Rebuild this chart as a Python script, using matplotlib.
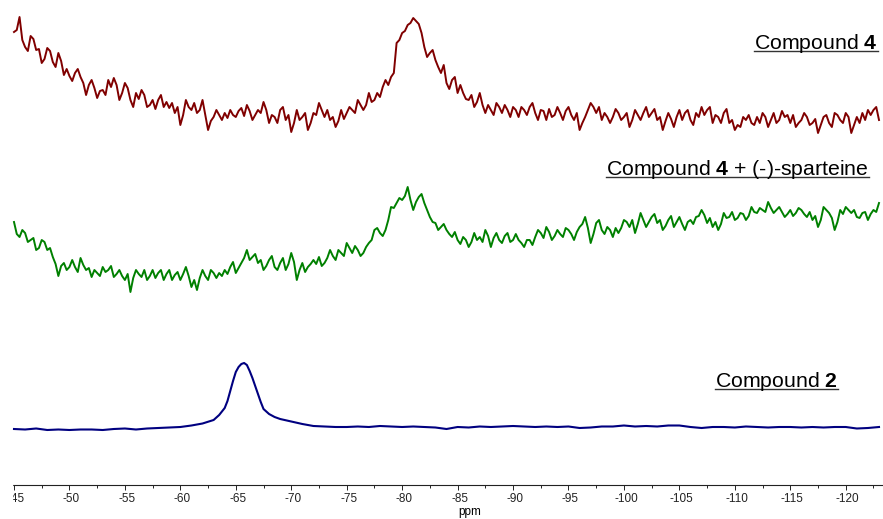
import numpy as np
import matplotlib
matplotlib.use('Agg')
import matplotlib.pyplot as plt
from matplotlib.ticker import MultipleLocator
from matplotlib.patches import Rectangle
from matplotlib.lines import Line2D
from matplotlib.transforms import ScaledTranslation

plt.rcParams['font.family'] = 'Liberation Sans'
plt.rcParams['mathtext.fontset'] = 'custom'
plt.rcParams['mathtext.rm'] = 'Liberation Sans'
plt.rcParams['mathtext.bf'] = 'Liberation Sans:bold'
plt.rcParams['axes.unicode_minus'] = False

# ── Data (arbitrary intensity units) ─────────────────────────────────────────
# readings on a 0.5 ppm grid (-45 ... -123) and the points half-way between them
# Compound 4
cmp4 = [103, 118, 88, 99, 85, 72, 87, 73, 82, 60, 59, 62, 58, 40, 55, 37, 45, 55, 57, 35,
        52, 35, 42, 45, 28, 35, 35, 28, 27, 22, 10, 35, 25, 22, 35, 5, 18, 20,
        22, 25, 18, 27, 30, 15, 25, 33, 12, 18, 25, 15, 3, 25, 18, 5, 22, 32, 18, 15,
        8, 25, 22, 25, 35, 25, 42, 35, 38, 55, 58, 92, 102, 110, 117, 111, 88, 82, 75, 62,
        52, 55, 42, 42, 35, 28, 42, 22, 25, 32, 22, 25, 28, 18, 25, 28, 22, 25, 15, 18,
        28, 15, 28, 15, 5, 18, 32, 22, 15, 18, 18, 22, 18, 8, 25, 15, 28, 22, 15, 5,
        22, 8, 25, 22, 15, 22, 28, 25, 12, 18, 22, 12, 5, 8, 15, 12, 18, 22, 8, 22,
        15, 18, 12, 8, 15, 18, 12, 2, 18, 12, 22, 15, 22, 2, 18, 22, 25, 25, 15]
cmp4_mid = [105, 95, 84, 96, 86, 76, 84, 68, 74, 66, 54, 66, 52, 50, 47, 44, 40, 48, 50, 42,
            47, 28, 36, 40, 30, 26, 40, 33, 32, 28, 20, 28, 32, 25, 20, 14, 25, 15, 17, 20,
            24, 19, 24, 20, 22, 25, 20, 12, 28, 20, 12, 15, 22, 12, 20, 25, 25, 18, 14, 16,
            28, 22, 30, 30, 33, 42, 48, 50, 62, 95, 104, 112, 114, 102, 78, 85, 68, 70, 46, 58,
            50, 36, 40, 33, 30, 30, 20, 28, 30, 18, 25, 28, 20, 32, 15, 24, 26, 20, 22, 24,
            20, 22, 12, 25, 28, 28, 22, 12, 26, 15, 22, 15, 20, 22, 18, 26, 18, 14, 16, 18,
            15, 25, 10, 18, 20, 28, 20, 12, 26, 15, 10, 18, 20, 10, 12, 18, 15, 12, 24, 20,
            20, 12, 22, 10, 16, 10, 20, 8, 20, 12, 18, 10, 12, 15, 20, 28]

# Compound 4 + (-)-sparteine
cmp4_spart = [78, 63, 67, 60, 50, 60, 50, 43, 24, 37, 33, 33, 42, 30, 23, 27, 33, 30, 23, 30,
              20, 8, 30, 23, 20, 30, 27, 20, 30, 25, 20, 33, 13, 10, 30, 20, 27, 27,
              30, 33, 27, 37, 50, 43, 37, 30, 40, 33, 37, 30, 47, 20, 37, 33, 40, 43, 37, 50,
              40, 47, 57, 47, 50, 47, 57, 70, 67, 70, 93, 97, 100, 113, 90, 103, 97, 83, 77, 73,
              70, 63, 60, 63, 53, 67, 63, 70, 53, 67, 57, 67, 60, 60, 53, 60, 63, 67, 73, 60,
              70, 63, 70, 60, 73, 83, 57, 77, 70, 73, 63, 67, 80, 73, 67, 87, 73, 83, 77, 70,
              80, 73, 83, 70, 80, 83, 90, 77, 73, 70, 87, 83, 80, 87, 80, 93, 87, 90, 98, 87,
              93, 83, 90, 87, 90, 83, 80, 73, 93, 87, 70, 90, 93, 87, 83, 87, 80, 90, 97]
cmp4_spart_mid = [66, 70, 58, 62, 52, 58, 52, 36, 34, 30, 40, 28, 35, 32, 30, 24, 28, 34, 26, 24,
                  26, 22, 26, 30, 24, 22, 30, 26, 20, 28, 26, 24, 20, 22, 24, 30, 22, 24, 26, 38,
                  32, 42, 40, 46, 40, 34, 44, 30, 42, 36, 38, 30, 28, 36, 36, 34, 42, 44, 50, 44,
                  52, 54, 44, 53, 60, 72, 64, 80, 92, 102, 104, 100, 98, 106, 90, 78, 70, 76, 66, 68,
                  56, 60, 58, 60, 58, 64, 62, 60, 64, 58, 66, 57, 60, 55, 70, 62, 68, 64, 66, 72,
                  66, 68, 76, 72, 66, 80, 66, 70, 72, 72, 78, 80, 76, 80, 78, 86, 80, 74, 84, 78,
                  76, 78, 76, 84, 85, 82, 78, 76, 82, 88, 82, 86, 84, 88, 92, 88, 92, 90, 88, 86,
                  84, 92, 86, 88, 84, 80, 90, 82, 78, 86, 90, 90, 82, 88, 86, 88]

# Compound 2
cmp2_ppm = [-45, -46, -47, -48, -49, -50, -51, -52, -53, -54, -55, -56, -57, -58, -59, -60,
            -61, -62, -63, -63.5, -64, -64.25, -64.5, -64.75, -65, -65.25, -65.5, -65.75,
            -66, -66.25, -66.5, -66.75, -67, -67.25, -67.5, -68, -68.5, -69, -70, -71, -72,
            -73, -74, -75, -76, -77, -78, -79, -80, -81, -82, -83, -84, -85, -86, -87, -88,
            -89, -90, -91, -92, -93, -94, -95, -96, -97, -98, -99, -100, -101, -102, -103,
            -104, -105, -106, -107, -108, -109, -110, -111, -112, -113, -114, -115, -116,
            -117, -118, -119, -120, -121, -122, -123]
cmp2 = [1, 0.5, 1.5, 0, 0.5, 0, 0.5, 0.5, 0, 1, 1.5, 0.5, 1.5, 2, 2.5, 3,
        4.5, 6.5, 10, 15, 22, 29, 39, 49, 58, 63, 66, 67,
        65, 59, 52, 44, 36, 28, 21, 16, 13, 11, 8.5, 6, 4,
        3.5, 3, 3, 3.5, 3, 4, 3.5, 3, 3.5, 3, 2.5, 1, 3, 2.5, 3.5, 3,
        3.5, 4, 3.5, 3, 3.5, 3, 3.5, 2, 2.5, 3.5, 3.5, 4.5, 3.5, 4, 3.5,
        4.5, 4.5, 3, 2, 3, 3, 2.5, 3.5, 3, 2.5, 3, 3, 2.5,
        3, 2.5, 3, 3, 1.5, 2, 3]

# stacking offsets (pixel-like units)
OFF_4, OFF_4S, OFF_2 = 384, 219, 89


def interleave(on_grid, between):
    out = np.empty(len(on_grid) + len(between))
    out[0::2] = on_grid
    out[1::2] = between
    return out


trace4 = interleave(cmp4, cmp4_mid)
trace4s = interleave(cmp4_spart, cmp4_spart_mid)
ppm_grid = np.linspace(-45, -123, len(trace4))

# ── Plot ──────────────────────────────────────────────────────────────────────
fig = plt.figure(figsize=(8.83, 5.19), dpi=100)
ax = fig.add_axes([12 / 883, 34 / 519, 871 / 883, 485 / 519])

ax.plot(ppm_grid, trace4 + OFF_4, color='#800000', lw=1.4)
ax.plot(ppm_grid, trace4s + OFF_4S, color='#008000', lw=1.4)
ax.plot(cmp2_ppm, np.array(cmp2) + OFF_2, color='#000080', lw=1.5)

ax.set_xlim(-44.82, -123.36)
ax.set_ylim(34, 519)
for s in ['top', 'left', 'right']:
    ax.spines[s].set_visible(False)
ax.spines['bottom'].set_linewidth(0.8)
ax.spines['bottom'].set_color('#222222')
ax.set_yticks([])
ax.xaxis.set_major_locator(MultipleLocator(5))
ax.xaxis.set_minor_locator(MultipleLocator(2.5))
ax.tick_params(axis='x', which='major', length=3.3, width=0.7, pad=2.5,
               labelsize=8.5, colors='#222222')
ax.tick_params(axis='x', which='minor', length=2.2, width=0.7, colors='#222222')
fig.text(470 / 883, 1 - 512 / 519, 'ppm', ha='center', va='center', fontsize=8.5)

# hide the part of the first tick label that falls outside the axis
fig.add_artist(Rectangle((0, 0), 11.5 / 883, 40 / 519, transform=fig.transFigure,
                         color='white', zorder=10))

labels = [
    ('Compound $\\mathbf{4}$', 878, 49),
    ('Compound $\\mathbf{4}$ + (-)-sparteine', 869, 175),
    ('Compound $\\mathbf{2}$', 838, 387),
]
txts = []
for s, xr, yb in labels:
    t = fig.text(xr / 883, 1 - yb / 519, s, ha='right', va='baseline', fontsize=15.3)
    txts.append((t, yb))

fig.canvas.draw()
# tick labels sit slightly right of their ticks in the original
shift = ScaledTranslation(2 / 100, 0, fig.dpi_scale_trans)
for lab in ax.get_xticklabels():
    lab.set_transform(lab.get_transform() + shift)

r = fig.canvas.get_renderer()
for t, yb in txts:
    bb = t.get_window_extent(r)
    yl = 1 - (yb + 1.8) / 519
    fig.add_artist(Line2D([bb.x0 / 883, bb.x1 / 883], [yl, yl], transform=fig.transFigure,
                          color='#333333', lw=1.0))

fig.savefig('out.png', dpi=100)
